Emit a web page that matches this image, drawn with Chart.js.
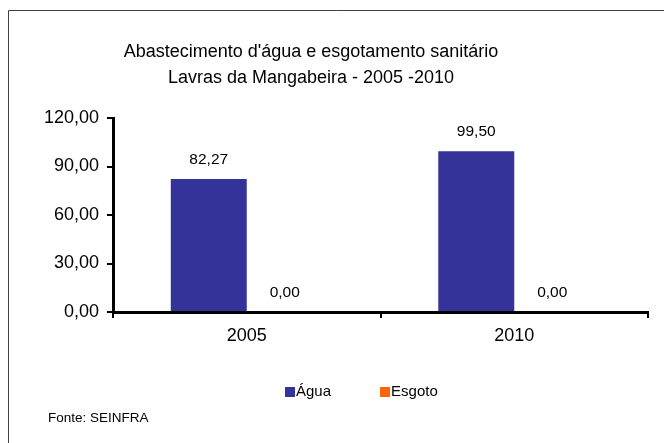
<!DOCTYPE html>
<html>
<head>
<meta charset="utf-8">
<script src="https://cdn.jsdelivr.net/npm/chart.js@4/dist/chart.umd.min.js"></script>
<style>
  html, body { margin: 0; padding: 0; background: #fff; }
</style>
</head>
<body>
<canvas id="chart" width="664" height="443"></canvas>
<script>
const years = ['2005', '2010'];
const agua = [82.27, 99.50];
const esgoto = [0.00, 0.00];
const seriesNames = ['Água', 'Esgoto'];
const titleLines = ["Abastecimento d'água e esgotamento sanitário", 'Lavras da Mangabeira - 2005 -2010'];
const sourceText = 'Fonte: SEINFRA';

const FONT = '"Liberation Sans", Arial, sans-serif';

const fmt = v => v.toFixed(2).replace('.', ',');

// title, value labels, legend, source and the outer frame
const decor = {
  id: 'decor',
  afterDraw(chart) {
    const ctx = chart.ctx;
    ctx.save();

    // frame (left + top only, as in the picture)
    ctx.strokeStyle = '#404040';
    ctx.lineWidth = 1;
    ctx.beginPath();
    ctx.moveTo(8.5, 443);
    ctx.lineTo(8.5, 10.5);
    ctx.lineTo(664, 10.5);
    ctx.stroke();

    // title
    ctx.fillStyle = '#000';
    ctx.font = '18px ' + FONT;
    ctx.textAlign = 'center';
    ctx.textBaseline = 'alphabetic';
    ctx.fillText(titleLines[0], 311, 57);
    ctx.fillText(titleLines[1], 311, 83);

    // value labels above each bar
    ctx.font = '15.5px ' + FONT;
    ctx.textBaseline = 'middle';
    chart.data.datasets.forEach((ds, i) => {
      chart.getDatasetMeta(i).data.forEach((bar, j) => {
        ctx.fillText(fmt(ds.data[j]), bar.x, bar.y - 19);
      });
    });

    // legend
    ctx.font = '15px ' + FONT;
    ctx.textAlign = 'left';
    let x = 285;
    chart.data.datasets.forEach(ds => {
      ctx.fillStyle = ds.backgroundColor;
      ctx.fillRect(x, 387, 10, 10);
      ctx.fillStyle = '#000';
      ctx.fillText(ds.label, x + 11, 392);
      x += 11 + ctx.measureText(ds.label).width + 49;
    });

    // source
    ctx.font = '13.5px ' + FONT;
    ctx.fillText(sourceText, 48, 418);

    ctx.restore();
  }
};

new Chart(document.getElementById('chart'), {
  type: 'bar',
  data: {
    labels: years,
    datasets: [
      { label: seriesNames[0], data: agua, backgroundColor: '#333399' },
      { label: seriesNames[1], data: esgoto, backgroundColor: '#FF6600' }
    ]
  },
  options: {
    responsive: false,
    animation: false,
    devicePixelRatio: 1,
    layout: { padding: { top: 118, right: 16, bottom: 91, left: 0 } },
    datasets: { bar: { categoryPercentage: 0.568, barPercentage: 1.0 } },
    plugins: {
      legend: { display: false },
      title: { display: false },
      tooltip: { enabled: false }
    },
    scales: {
      x: {
        afterFit(scale) { scale.height = 40; },
        grid: { display: true, drawOnChartArea: false, offset: true, color: '#000', lineWidth: 2, tickLength: 6 },
        border: { display: true, color: '#000', width: 3 },
        ticks: { color: '#000', font: { family: FONT, size: 18 }, padding: 7 }
      },
      y: {
        min: 0,
        max: 120,
        afterFit(scale) { scale.width = 113; },
        grid: { display: true, drawOnChartArea: false, color: '#000', lineWidth: 2, tickLength: 6 },
        border: { display: true, color: '#000', width: 3 },
        ticks: {
          stepSize: 30,
          color: '#000',
          font: { family: FONT, size: 18 },
          padding: 8,
          callback: v => fmt(v)
        }
      }
    }
  },
  plugins: [decor]
});
</script>
</body>
</html>
